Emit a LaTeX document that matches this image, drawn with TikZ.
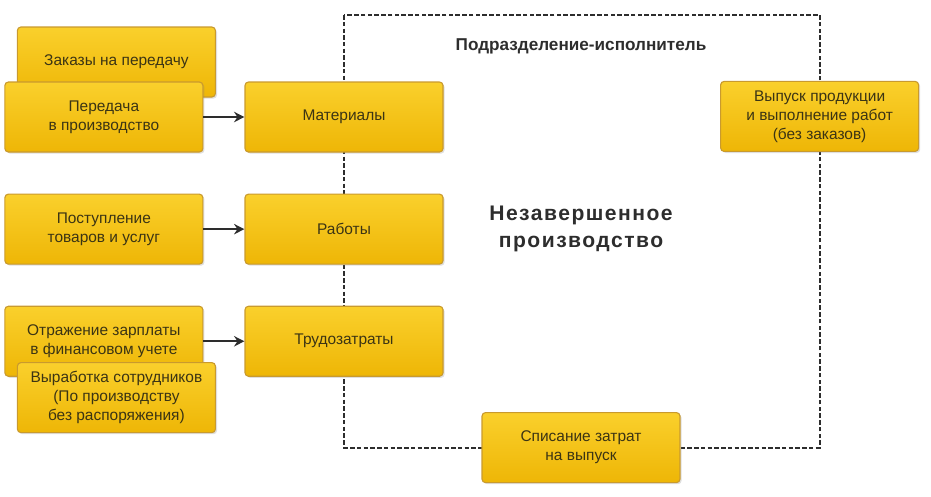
\documentclass[tikz,border=0pt]{standalone}
\usepackage{fontspec}
\setmainfont{Liberation Sans}
\newfontfamily\widefont[LetterSpace=7]{Liberation Sans}
\usepackage{tikz}
\usetikzlibrary{arrows.meta, positioning, shadows}
\definecolor{boxtop}{RGB}{250,208,44}
\definecolor{boxbot}{RGB}{238,182,6}
\definecolor{boxline}{RGB}{201,154,46}
\definecolor{boxtext}{RGB}{59,52,20}
\definecolor{darkgray}{RGB}{45,45,45}

\begin{document}
\begin{tikzpicture}[
    node distance=1.025cm,
    box/.style={rectangle, draw=boxline, line width=0.8pt, top color=boxtop, bottom color=boxbot,
                rounded corners=2.5pt, minimum height=1.75cm, minimum width=4.95cm, align=center,
                font=\fontsize{11}{13.5}\selectfont, text=boxtext,
                drop shadow={opacity=0.25, shadow xshift=0.04cm, shadow yshift=-0.04cm}},
    arrow/.style={-{Stealth[length=2.6mm, width=2.6mm]}, line width=1.5pt, darkgray},
    frameline/.style={line width=1.4pt, darkgray, dash pattern=on 3.2pt off 1.6pt}
]
\useasboundingbox (0,0) rectangle (23.275,-12.4);

% dashed frame of the department
\coordinate (ftl) at (8.6,-0.375);
\coordinate (fbr) at (20.49,-11.19);
\draw[frameline] (ftl) rectangle (fbr);

\node[font=\bfseries\fontsize{12.2}{14}\selectfont, text=darkgray] (dept) at (14.525,-1.15) {Подразделение-исполнитель};
\node[font=\widefont\bfseries\fontsize{15}{19}\selectfont, text=darkgray, align=center] (wip) at (14.525,-5.725)
    {Незавершенное\\производство};

\node[box] (zak) at (2.91,-1.55) {Заказы на передачу};
\node[box] (mat) at (8.6,-2.925) {Материалы};
\node[box, left=of mat] (per) {Передача\\в производство};
\node[box, below=of mat] (rab) {Работы};
\node[box, left=of rab] (post) {Поступление\\товаров и услуг};
\node[box, below=of rab] (trud) {Трудозатраты};
\node[box, left=of trud] (otr) {Отражение зарплаты\\в финансовом учете};
\node[box] (vyr) at (2.91,-9.94) {Выработка сотрудников\\(По производству\\без распоряжения)};

\node[box] (vyp) at (20.49,-2.91) {Выпуск продукции\\и выполнение работ\\(без заказов)};
\node[box] (spis) at (14.525,-11.19) {Списание затрат\\на выпуск};

\draw[arrow] (per)--(mat);
\draw[arrow] (post)--(rab);
\draw[arrow] (otr)--(trud);
\end{tikzpicture}
\end{document}
